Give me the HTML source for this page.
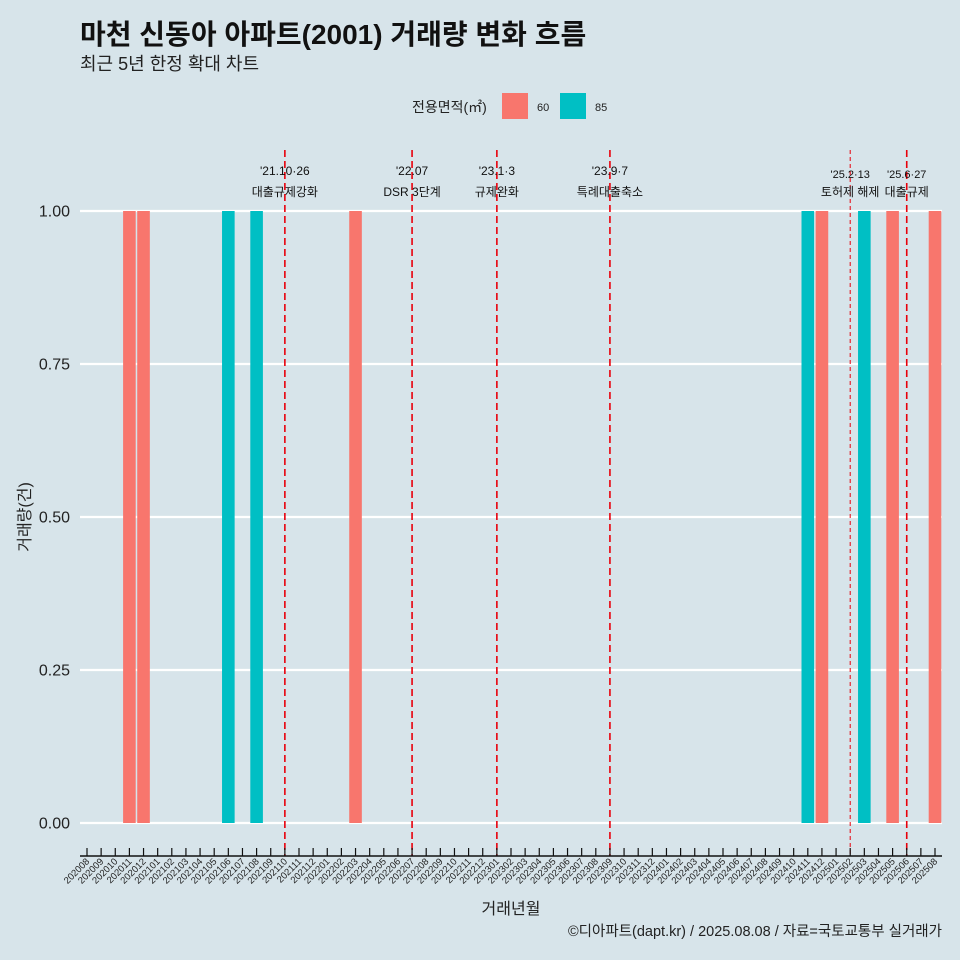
<!DOCTYPE html>
<html><head><meta charset="utf-8"><style>
body{margin:0;background:#d7e4ea;}
svg{display:block;font-family:"Liberation Sans","Noto Sans CJK KR",sans-serif;}
</style></head><body>
<svg id="c" width="960" height="960">
<rect width="960" height="960" fill="#d7e4ea"/>
<text x="80" y="44" font-size="28" font-weight="bold" fill="#111">마천 신동아 아파트(2001) 거래량 변화 흐름</text>
<text x="80" y="70" font-size="18" fill="#222">최근 5년 한정 확대 차트</text>
<g>
<text x="412" y="112" font-size="14" fill="#222">전용면적(㎡)</text>
<rect x="502" y="93" width="26" height="26" fill="#f8766d"/>
<text x="537" y="111" font-size="11" fill="#222">60</text>
<rect x="560" y="93" width="26" height="26" fill="#00bfc4"/>
<text x="595" y="111" font-size="11" fill="#222">85</text>
</g>
<g id="grid"></g><g id="bars"></g><g id="events"></g><g id="xaxis"></g><g id="yaxis"></g>
<text x="30" y="517" font-size="16" fill="#222" text-anchor="middle" transform="rotate(-90 30 517)">거래량(건)</text>
<text x="511" y="914" font-size="16" fill="#222" text-anchor="middle">거래년월</text>
<text x="942" y="936" font-size="14.5" fill="#222" text-anchor="end">©디아파트(dapt.kr) / 2025.08.08 / 자료=국토교통부 실거래가</text>
</svg>
<script>
const months=[];for(let y=2020;y<=2025;y++)for(let m=1;m<=12;m++){const k=y*100+m;if(k>=202008&&k<=202508)months.push(String(k));}
const barMonths=["202011","202012","202106","202108","202203","202411","202412","202503","202505","202508"];
const barAreas=["60","60","85","85","60","85","60","85","60","60"];
const barValues=[1,1,1,1,1,1,1,1,1,1];
const yTicks=[0,0.25,0.5,0.75,1.0];
const yTickLabels=["0.00","0.25","0.50","0.75","1.00"];
const eventMonths=["202110","202207","202301","202309","202502","202506"];
const eventDates=["'21.10·26","'22.07","'23.1·3","'23.9·7","'25.2·13","'25.6·27"];
const eventLabels=["대출규제강화","DSR 3단계","규제완화","특례대출축소","토허제 해제","대출규제"];
const NS="http://www.w3.org/2000/svg";
const x=m=>87+months.indexOf(m)*(848/60);
const y=v=>823-v*612;
function mk(t,a,p){const e=document.createElementNS(NS,t);for(const k in a)e.setAttribute(k,a[k]);p.appendChild(e);return e;}
const G=document.getElementById('grid'),B=document.getElementById('bars'),E=document.getElementById('events'),X=document.getElementById('xaxis'),Y=document.getElementById('yaxis');
yTicks.forEach((v,i)=>{
const l=mk('line',{x1:80,x2:942,y1:y(v),y2:y(v),stroke:'#fff','stroke-width':2.2},G);


const t=mk('text',{x:70,y:y(v)+5.5,'font-size':16,fill:'#222','text-anchor':'end'},Y);t.textContent=yTickLabels[i];


});
barMonths.forEach((m,i)=>{
const r=mk('rect',{x:x(m)-6.3,y:y(barValues[i]),width:12.6,height:y(0)-y(barValues[i]),fill:barAreas[i]==="60"?'#f8766d':'#00bfc4'},B);


});
mk('line',{x1:80,x2:942,y1:856,y2:856,stroke:'#111','stroke-width':1.5},X);
months.forEach(m=>{
mk('line',{x1:x(m),x2:x(m),y1:848,y2:856,stroke:'#111','stroke-width':1.2},X);
const t=mk('text',{x:x(m)+3,y:862,'font-size':9.5,fill:'#222','text-anchor':'end',transform:`rotate(-45 ${x(m)+3} 862)`},X);t.textContent=m;


});
eventMonths.forEach((m,i)=>{
const thin=m==="202502";
const l=mk('line',{x1:x(m),x2:x(m),y1:150,y2:856,stroke:'#e8000b','stroke-width':thin?1:1.6,'stroke-dasharray':thin?'4 3':'7 4'},E);


const small=m==="202502"||m==="202506";
const cx=x(m);
const t1=mk('text',{x:cx,y:small?178:175,'font-size':small?11:12,fill:'#111','text-anchor':'middle'},E);t1.textContent=eventDates[i];


const t2=mk('text',{x:cx,y:196,'font-size':12,fill:'#111','text-anchor':'middle'},E);t2.textContent=eventLabels[i];


});
</script>
</body></html>
